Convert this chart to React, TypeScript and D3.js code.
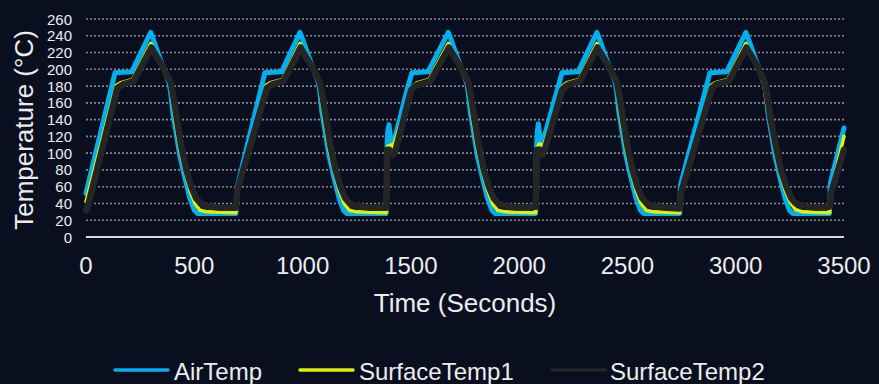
import React from 'react';
import * as d3 from 'd3';

// Axis ticks
const timeTicks = [0, 500, 1000, 1500, 2000, 2500, 3000, 3500];
const tempTicks = [0, 20, 40, 60, 80, 100, 120, 140, 160, 180, 200, 220, 240, 260];

// Readings as [seconds, °C]
const airTemp: [number, number][] = [
  [0, 52], [134, 196], [211, 197], [299, 244], [308, 238], [340, 214], [385, 183], [392, 170], [400, 150],
  [434, 96], [457, 70], [480, 46], [500, 32], [515, 28], [600, 28], [688, 28],
  [692, 28], [697, 58], [826, 196], [903, 197], [988, 244], [997, 238], [1030, 214], [1074, 183], [1081, 170],
  [1089, 150], [1123, 96], [1146, 70], [1169, 46], [1189, 32], [1204, 28], [1300, 28], [1386, 28],
  [1389, 100], [1393, 125], [1399, 134], [1405, 120], [1413, 108], [1420, 112], [1482, 175], [1505, 196],
  [1579, 197], [1673, 244], [1682, 238], [1715, 214], [1759, 183], [1766, 170], [1774, 150], [1808, 96],
  [1831, 70], [1854, 46], [1874, 32], [1889, 28], [1990, 28], [2076, 28],
  [2079, 100], [2084, 125], [2089, 135], [2095, 122], [2103, 110], [2108, 112], [2176, 175], [2198, 196],
  [2272, 197], [2359, 244], [2368, 238], [2401, 214], [2445, 183], [2452, 170], [2460, 150], [2494, 96],
  [2517, 70], [2540, 46], [2560, 32], [2575, 28], [2680, 28], [2741, 28],
  [2745, 62], [2881, 196], [2958, 197], [3047, 244], [3056, 238], [3089, 214], [3133, 183], [3140, 170],
  [3148, 150], [3182, 96], [3205, 70], [3228, 46], [3248, 32], [3263, 28], [3360, 28], [3433, 28],
  [3437, 64], [3500, 130],
];

const surfaceTemp1: [number, number][] = [
  [0, 42], [139, 181], [160, 184], [215, 188], [299, 231], [310, 226], [345, 207], [388, 182], [400, 160],
  [411, 140], [434, 104], [457, 78], [480, 56], [503, 40], [526, 32], [560, 30], [688, 29],
  [692, 29], [697, 50], [831, 181], [850, 184], [908, 188], [988, 231], [999, 226], [1034, 207], [1077, 182],
  [1089, 160], [1100, 140], [1123, 104], [1146, 78], [1169, 56], [1192, 40], [1215, 32], [1250, 30], [1386, 29],
  [1389, 60], [1392, 108], [1410, 110], [1418, 108], [1512, 181], [1530, 184], [1584, 188], [1673, 231],
  [1684, 226], [1719, 207], [1762, 182], [1774, 160], [1785, 140], [1808, 104], [1831, 78], [1854, 56],
  [1877, 40], [1900, 32], [1935, 30], [2076, 29],
  [2080, 70], [2086, 108], [2093, 111], [2105, 110], [2112, 108], [2203, 181], [2220, 184], [2277, 188],
  [2359, 231], [2370, 226], [2405, 207], [2448, 182], [2460, 160], [2471, 140], [2494, 104], [2517, 78],
  [2540, 56], [2563, 40], [2586, 32], [2620, 30], [2741, 29],
  [2746, 50], [2886, 181], [2905, 184], [2963, 188], [3047, 231], [3058, 226], [3093, 207], [3130, 182],
  [3142, 160], [3155, 142], [3178, 108], [3203, 78], [3228, 56], [3251, 42], [3274, 33], [3310, 30], [3433, 29],
  [3438, 52], [3500, 120],
];

const surfaceTemp2: [number, number][] = [
  [0, 32], [10, 38], [145, 178], [170, 182], [220, 186], [302, 226], [315, 220], [350, 205], [392, 184],
  [405, 165], [418, 143], [440, 108], [463, 80], [486, 60], [509, 46], [530, 40], [560, 37], [620, 35], [688, 35],
  [692, 35], [698, 55], [836, 178], [860, 182], [913, 186], [991, 226], [1004, 220], [1039, 205], [1081, 184],
  [1094, 165], [1107, 143], [1129, 108], [1152, 80], [1175, 60], [1198, 46], [1219, 40], [1250, 37], [1310, 35], [1386, 35],
  [1388, 50], [1390, 104], [1400, 104], [1418, 98], [1430, 104], [1501, 175], [1520, 180], [1540, 182],
  [1590, 186], [1676, 226], [1689, 220], [1724, 205], [1766, 184], [1779, 165], [1792, 143], [1814, 108],
  [1837, 80], [1860, 60], [1883, 46], [1904, 40], [1935, 37], [1995, 35], [2076, 36],
  [2079, 60], [2082, 104], [2095, 104], [2108, 98], [2118, 104], [2198, 175], [2215, 180], [2230, 182],
  [2282, 186], [2362, 226], [2375, 220], [2410, 205], [2452, 184], [2465, 165], [2478, 143], [2500, 108],
  [2523, 80], [2546, 60], [2569, 46], [2590, 40], [2620, 37], [2680, 35], [2741, 34],
  [2747, 52], [2891, 178], [2910, 182], [2968, 186], [3050, 226], [3063, 220], [3098, 205], [3135, 184],
  [3147, 165], [3160, 143], [3184, 110], [3209, 80], [3234, 60], [3257, 46], [3278, 40], [3310, 37],
  [3370, 35], [3433, 36],
  [3440, 52], [3500, 104],
];

const seriesNames = ['AirTemp', 'SurfaceTemp1', 'SurfaceTemp2'];

const W = 879;
const H = 384;
const FONT = '"Liberation Sans", Arial, sans-serif';
const TEXT = '#ececec';
const BG = '#0a0f20';

export default function App() {
  const x = d3.scaleLinear().domain([0, 3500]).range([86, 844]);
  const y = d3.scaleLinear().domain([0, 260]).range([237, 19]);
  const line = d3
    .line<[number, number]>()
    .x((d) => x(d[0]))
    .y((d) => y(d[1]));

  const series = [
    { name: seriesNames[0], data: airTemp, color: '#00b0f0', width: 5 },
    { name: seriesNames[1], data: surfaceTemp1, color: '#dff000', width: 3.5 },
    { name: seriesNames[2], data: surfaceTemp2, color: '#252525', width: 6.5 },
  ];

  const legendPos = [
    { lx: 115, tx: 174 },
    { lx: 300, tx: 359 },
    { lx: 552, tx: 610 },
  ];

  return (
    <svg
      width={W}
      height={H}
      style={{ position: 'absolute', left: 0, top: 0, display: 'block' }}
      fontFamily={FONT}
    >
      <rect width={W} height={H} fill={BG} />

      {/* horizontal gridlines */}
      {tempTicks
        .filter((t) => t > 0)
        .map((t) => (
          <line
            key={t}
            x1={x(0)}
            x2={x(3500)}
            y1={y(t)}
            y2={y(t)}
            stroke="#8a8a8a"
            strokeWidth={1.6}
            strokeDasharray="2 2"
          />
        ))}

      {/* baseline */}
      <line x1={x(0)} x2={x(3500)} y1={y(0)} y2={y(0)} stroke="#d9d9d9" strokeWidth={2} />

      {/* y tick labels */}
      {tempTicks.map((t) => (
        <text
          key={t}
          x={72}
          y={y(t)}
          textAnchor="end"
          dominantBaseline="central"
          fontSize={15}
          fill={TEXT}
        >
          {t}
        </text>
      ))}

      {/* x tick labels */}
      {timeTicks.map((t) => (
        <text key={t} x={x(t)} y={274} textAnchor="middle" fontSize={24} fill={TEXT}>
          {t}
        </text>
      ))}

      {/* axis titles */}
      <text x={465} y={312} textAnchor="middle" fontSize={26} fill={TEXT}>
        Time (Seconds)
      </text>
      <text
        transform={`translate(33,130) rotate(-90)`}
        textAnchor="middle"
        fontSize={26}
        fill={TEXT}
      >
        Temperature (°C)
      </text>

      {/* series */}
      {series.map((s) => (
        <path
          key={s.name}
          d={line(s.data) || ''}
          fill="none"
          stroke={s.color}
          strokeWidth={s.width}
          strokeLinejoin="round"
          strokeLinecap="round"
        />
      ))}

      {/* legend */}
      {series.map((s, i) => (
        <g key={s.name}>
          <line
            x1={legendPos[i].lx}
            x2={legendPos[i].lx + 53}
            y1={370}
            y2={370}
            stroke={s.color}
            strokeWidth={3.5}
            strokeLinecap="round"
          />
          <text x={legendPos[i].tx} y={380} fontSize={24} fill={TEXT}>
            {s.name}
          </text>
        </g>
      ))}
    </svg>
  );
}
